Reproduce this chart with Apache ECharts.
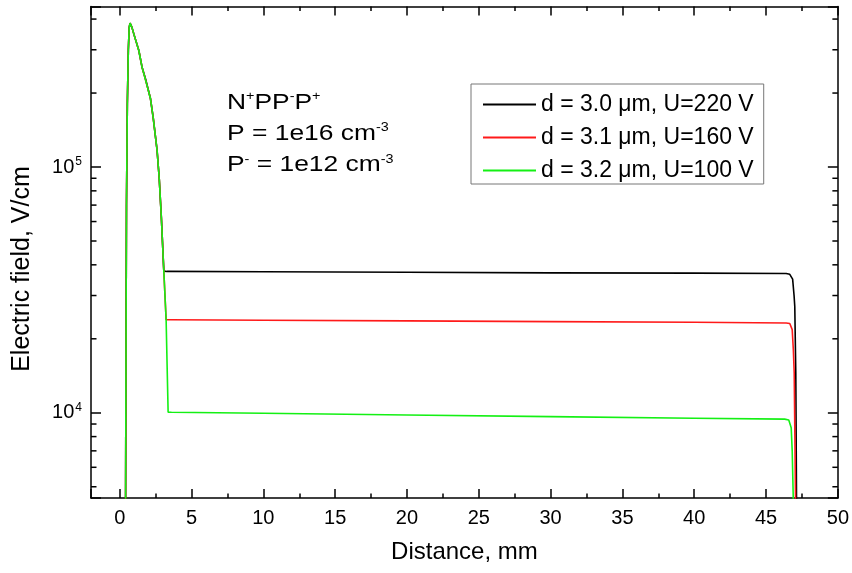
<!DOCTYPE html>
<html>
<head>
<meta charset="utf-8">
<script src="https://cdn.jsdelivr.net/npm/echarts@6/dist/echarts.min.js"></script>
<style>html,body{margin:0;padding:0;background:#fff}#c{width:852px;height:573px}</style>
</head>
<body>
<div id="c"></div>
<script>
// ---- data ----
const seriesNames = ['d = 3.0 \u03bcm, U=220 V', 'd = 3.1 \u03bcm, U=160 V', 'd = 3.2 \u03bcm, U=100 V'];
const seriesColors = ['#000000', '#ff1a1a', '#14f014'];

const blackX = [0.40, 0.44, 0.47, 0.53, 0.60, 0.66, 0.72, 0.85, 1.00, 1.33, 1.56, 1.80, 2.14, 2.33, 2.60, 2.75, 2.90, 3.07, 3.30, 10, 20, 30, 40, 46.40, 46.65, 46.85, 46.95, 47.00, 47.07, 47.12, 47.13];
const blackY = [3000, 20000, 70000, 180000, 300000, 370000, 385000, 370000, 345000, 298000, 254000, 228000, 190000, 159000, 117000, 90000, 62000, 37700, 37600, 37500, 37300, 37100, 37000, 36900, 36600, 35000, 30000, 27000, 14500, 4500, 3000];

const redX = [0.40, 0.44, 0.47, 0.53, 0.60, 0.66, 0.72, 0.85, 1.00, 1.33, 1.56, 1.80, 2.14, 2.33, 2.60, 2.75, 2.90, 3.07, 3.23, 3.50, 10, 20, 30, 40, 46.40, 46.65, 46.82, 46.90, 46.96, 47.05, 47.06];
const redY = [3000, 20000, 70000, 180000, 300000, 370000, 385000, 370000, 345000, 298000, 254000, 226000, 190000, 159000, 117000, 90000, 62000, 37700, 23900, 23900, 23800, 23650, 23500, 23350, 23200, 23100, 21800, 18000, 14500, 4600, 3000];

const greenX = [0.40, 0.44, 0.47, 0.53, 0.60, 0.66, 0.72, 0.85, 1.00, 1.33, 1.56, 1.80, 2.14, 2.33, 2.60, 2.75, 2.90, 3.07, 3.23, 3.37, 3.60, 10, 20, 30, 40, 46.30, 46.58, 46.75, 46.82, 46.89, 46.90];
const greenY = [3000, 20000, 70000, 180000, 300000, 370000, 385000, 370000, 345000, 298000, 254000, 226000, 190000, 159000, 117000, 90000, 62000, 37700, 23900, 10060, 10050, 9950, 9800, 9650, 9500, 9420, 9350, 8700, 7000, 4600, 3000];

const xMin = -2, xMax = 50;
const yMin = 4500, yMax = 450000;
const yMinorTicks = [5000, 6000, 7000, 8000, 9000, 20000, 30000, 40000, 50000, 60000, 70000, 80000, 90000, 200000, 300000, 400000];

const FONT = '"Liberation Sans", Arial, sans-serif';
function zip(xs, ys) { return xs.map((x, i) => [x, ys[i]]); }

const chart = echarts.init(document.getElementById('c'), null, { renderer: 'canvas' });

const axisLine = { show: true, onZero: false, lineStyle: { color: '#000', width: 1.5 } };

function yLabel(v) {
  const n = Math.round(Math.log10(v));
  if (Math.abs(Math.pow(10, n) - v) / v > 1e-6) return '';
  return '{b|10}{s|' + n + '}';
}

const option = {
  animation: false,
  textStyle: { fontFamily: FONT },
  grid: { left: 91, right: 14, top: 6.5, bottom: 75, containLabel: false },
  legend: {
    data: seriesNames.map(n => ({ name: n, icon: 'rect' })),
    orient: 'vertical',
    left: 471, top: 84,
    padding: [9, 10, 2, 12],
    itemWidth: 53, itemHeight: 2, itemGap: 10,
    borderColor: '#777', borderWidth: 1, borderRadius: 0,
    textStyle: { fontSize: 23, lineHeight: 20, color: '#000', fontFamily: FONT },
    selectedMode: false
  },
  xAxis: [
    {
      type: 'value', min: xMin, max: xMax, splitNumber: 10, position: 'bottom',
      axisLine: axisLine,
      axisTick: { show: true, inside: true, length: 9, lineStyle: { color: '#000', width: 1.5 } },
      minorTick: { show: true, splitNumber: 2, length: 4.5, lineStyle: { color: '#000', width: 1.5 } },
      splitLine: { show: false },
      axisLabel: { fontSize: 20, color: '#000', margin: 10, fontFamily: FONT,
        formatter: v => (v < 0 ? '' : String(v)) },
      name: 'Distance, mm', nameLocation: 'middle', nameGap: 42,
      nameTextStyle: { fontSize: 24, color: '#000', fontFamily: FONT }
    },
    {
      type: 'value', min: xMin, max: xMax, splitNumber: 10, position: 'top',
      axisLine: axisLine,
      axisTick: { show: true, inside: true, length: 9, lineStyle: { color: '#000', width: 1.5 } },
      minorTick: { show: true, splitNumber: 2, length: 4.5, lineStyle: { color: '#000', width: 1.5 } },
      splitLine: { show: false },
      axisLabel: { show: false }
    }
  ],
  yAxis: [
    {
      type: 'log', min: yMin, max: yMax, logBase: 10, position: 'left',
      axisLine: axisLine,
      axisTick: { show: true, inside: true, length: 10, lineStyle: { color: '#000', width: 1.5 } },
      splitLine: { show: false },
      axisLabel: {
        margin: 9, color: '#000', formatter: yLabel,
        rich: {
          b: { fontSize: 20, color: '#000', fontFamily: FONT },
          s: { fontSize: 12, color: '#000', fontFamily: FONT, padding: [0, 0, 10, 1] }
        }
      }
    },
    {
      type: 'log', min: yMin, max: yMax, logBase: 10, position: 'right',
      axisLine: axisLine,
      axisTick: { show: true, inside: true, length: 10, lineStyle: { color: '#000', width: 1.5 } },
      splitLine: { show: false },
      axisLabel: { show: false }
    }
  ],
  graphic: [
    {
      type: 'text', x: 22.5, y: 269, rotation: Math.PI / 2,
      style: { text: 'Electric field, V/cm', fontSize: 25, fill: '#000', fontFamily: FONT,
        align: 'center', verticalAlign: 'middle' }
    },
    {
      type: 'text', x: 227, y: 87, scaleX: 1.2,
      style: {
        text: '{n|N}{s|+}{n|PP}{s|-}{n|P}{s|+}\n{n|P = 1e16 cm}{s|-3}\n{n|P}{s|-}{n| = 1e12 cm}{s|-3}',
        fill: '#000', fontFamily: FONT, align: 'left', verticalAlign: 'top',
        rich: {
          n: { fontSize: 22, lineHeight: 31.3, fill: '#000', fontFamily: FONT },
          s: { fontSize: 12, lineHeight: 12, fill: '#000', fontFamily: FONT, padding: [0, 0, 12, 0] }
        }
      }
    }
  ],
  series: [
    {
      type: 'custom', name: 'minorY', silent: true, xAxisIndex: 0, yAxisIndex: 0,
      data: yMinorTicks.map(v => [xMin, v]),
      renderItem: function (params, api) {
        const v = api.value(1);
        const pL = api.coord([xMin, v]);
        const pR = api.coord([xMax, v]);
        const st = { stroke: '#000', lineWidth: 1.5 };
        return { type: 'group', children: [
          { type: 'line', shape: { x1: pL[0], y1: pL[1], x2: pL[0] + 5.5, y2: pL[1] }, style: st },
          { type: 'line', shape: { x1: pR[0], y1: pR[1], x2: pR[0] - 5.5, y2: pR[1] }, style: st }
        ] };
      },
      z: 3
    },
    { type: 'line', name: seriesNames[0], data: zip(blackX, blackY), symbol: 'none', showSymbol: false,
      color: seriesColors[0], lineStyle: { width: 1.6, color: seriesColors[0] }, clip: true, z: 2 },
    { type: 'line', name: seriesNames[1], data: zip(redX, redY), symbol: 'none', showSymbol: false,
      color: seriesColors[1], lineStyle: { width: 1.6, color: seriesColors[1] }, clip: true, z: 2 },
    { type: 'line', name: seriesNames[2], data: zip(greenX, greenY), symbol: 'none', showSymbol: false,
      color: seriesColors[2], lineStyle: { width: 1.6, color: seriesColors[2] }, clip: true, z: 2 }
  ]
};
chart.setOption(option);
</script>
</body>
</html>
